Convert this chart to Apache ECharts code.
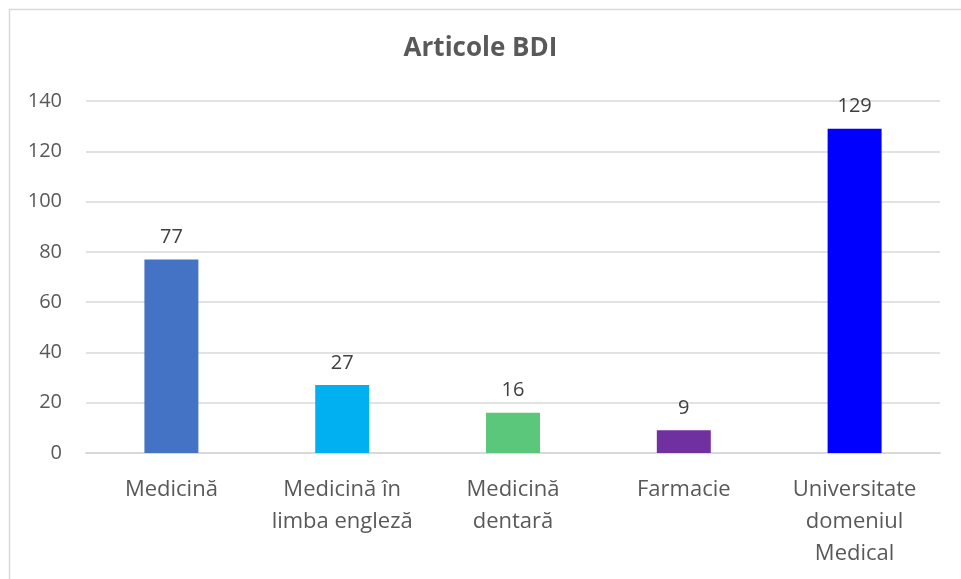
<!DOCTYPE html>
<html lang="ro">
<head>
  <meta charset="UTF-8">
  <title>Articole BDI</title>
  <script src="https://cdn.jsdelivr.net/npm/echarts@6/dist/echarts.min.js"></script>
  <style>
    html, body { margin: 0; padding: 0; width: 100%; height: 100%; background: #fff; }
    #chart { width: 961px; height: 579px; }
  </style>
</head>
<body>
  <div id="chart"></div>
  <script>
    const categories = ['Medicină', 'Medicină în\nlimba engleză', 'Medicină\ndentară', 'Farmacie', 'Universitate\ndomeniul\nMedical']
    const values = [77, 27, 16, 9, 129]
    const barColors = ['#4472C4', '#00B0F0', '#5BC77A', '#7030A0', '#0000FF']
    const yTicks = { min: 0, max: 140, interval: 20 }

    const chart = echarts.init(document.getElementById('chart'))
    const font = '"Open Sans", "Noto Sans", sans-serif'

    chart.setOption({
      backgroundColor: '#fff',
      animation: false,
      title: {
        text: 'Articole BDI',
        left: 'center',
        top: 31,
        textStyle: { fontFamily: font, fontSize: 26, fontWeight: 'bold', color: '#595959' }
      },
      // chart frame, only left and top edges visible
      graphic: [{
        type: 'rect',
        shape: { x: 9.5, y: 9.5, width: 1000, height: 1000 },
        style: { fill: 'none', stroke: '#D9D9D9', lineWidth: 1.5 },
        silent: true
      }],
      grid: { left: 86, right: 21, top: 101, bottom: 126 },
      xAxis: {
        type: 'category',
        data: categories,
        axisLine: { lineStyle: { color: '#D9D9D9', width: 2 } },
        axisTick: { show: false },
        axisLabel: {
          interval: 0,
          margin: 21,
          fontFamily: font,
          fontSize: 22,
          lineHeight: 32,
          color: '#595959'
        }
      },
      yAxis: {
        type: 'value',
        min: yTicks.min,
        max: yTicks.max,
        interval: yTicks.interval,
        axisLine: { show: false },
        axisTick: { show: false },
        splitLine: { lineStyle: { color: '#D9D9D9', width: 1.5 } },
        axisLabel: { margin: 24, fontFamily: font, fontSize: 20, color: '#595959' }
      },
      series: [{
        type: 'bar',
        barWidth: '31.6%',
        data: values.map((v, i) => ({ value: v, itemStyle: { color: barColors[i] } })),
        label: {
          show: true,
          position: 'top',
          distance: 12,
          fontFamily: font,
          fontSize: 20,
          color: '#404040'
        }
      }]
    })
  </script>
</body>
</html>
